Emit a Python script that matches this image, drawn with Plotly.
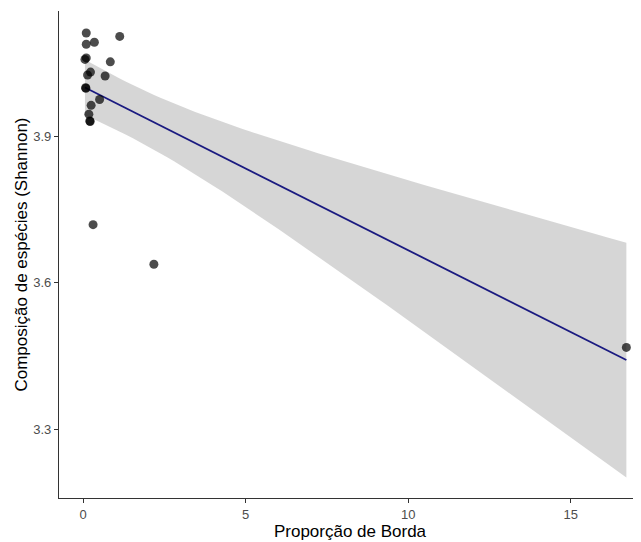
import numpy as np
import plotly.graph_objects as go

# Data
borda = [0.10, 0.10, 0.35, 1.13, 0.06, 0.10, 0.84, 0.14, 0.23, 0.68,
         0.08, 0.09, 0.51, 0.25, 0.18, 0.21, 0.22, 0.31, 2.18, 16.71]
shannon = [4.111, 4.088, 4.092, 4.104, 4.057, 4.060, 4.052, 4.025, 4.031, 4.023,
           3.999, 3.998, 3.975, 3.963, 3.945, 3.931, 3.930, 3.719, 3.638, 3.468]

x_ticks = [0, 5, 10, 15]
y_ticks = [3.3, 3.6, 3.9]

x = np.array(borda)
y = np.array(shannon)
n = len(x)

# Linear model fit with 95% confidence band (like geom_smooth(method="lm"))
slope, intercept = np.polyfit(x, y, 1)
resid = y - (intercept + slope * x)
df = n - 2
s = np.sqrt(np.sum(resid ** 2) / df)
xm = x.mean()
sxx = np.sum((x - xm) ** 2)
z = 1.959964
tq = (z + (z**3 + z) / (4 * df) + (5 * z**5 + 16 * z**3 + 3 * z) / (96 * df**2)
      + (3 * z**7 + 19 * z**5 + 17 * z**3 - 15 * z) / (384 * df**3))

xs = np.linspace(x.min(), x.max(), 80)
ys = intercept + slope * xs
se = s * np.sqrt(1 / n + (xs - xm) ** 2 / sxx)
upper = ys + tq * se
lower = ys - tq * se

fig = go.Figure()
fig.add_trace(go.Scatter(
    x=np.concatenate([xs, xs[::-1]]), y=np.concatenate([upper, lower[::-1]]),
    fill="toself", fillcolor="rgba(153,153,153,0.4)", line=dict(width=0),
    hoverinfo="skip", showlegend=False, mode="lines"))
fig.add_trace(go.Scatter(
    x=xs, y=ys, mode="lines", line=dict(color="#1a1a80", width=1.8),
    showlegend=False))
fig.add_trace(go.Scatter(
    x=borda, y=shannon, mode="markers",
    marker=dict(size=9, color="rgba(0,0,0,0.7)", line=dict(width=0)),
    showlegend=False))

fig.update_layout(
    width=633, height=534,
    margin=dict(l=51, r=0, t=3, b=44),
    paper_bgcolor="white", plot_bgcolor="white",
    font=dict(family="Liberation Sans, Arial, sans-serif"),
    xaxis=dict(
        range=[-0.738, 17.16], tickvals=x_ticks, ticktext=[str(v) for v in x_ticks],
        showgrid=False, zeroline=False, showline=True, linecolor="#333333", linewidth=1.2,
        ticks="outside", ticklen=4, tickcolor="#333333",
        tickfont=dict(size=13, color="#4d4d4d"),
        title=dict(text="Proporção de Borda", font=dict(size=17, color="black"), standoff=0),
    ),
    yaxis=dict(
        range=[3.160, 4.156], tickvals=y_ticks, ticktext=[f"{v:.1f}" for v in y_ticks],
        showgrid=False, zeroline=False, showline=True, linecolor="#333333", linewidth=1.2,
        ticks="outside", ticklen=4, tickcolor="#333333",
        tickfont=dict(size=13, color="#4d4d4d"),
        title=dict(text="Composição de espécies (Shannon)", font=dict(size=17, color="black"), standoff=1),
    ),
)

fig.write_html("out.html")
